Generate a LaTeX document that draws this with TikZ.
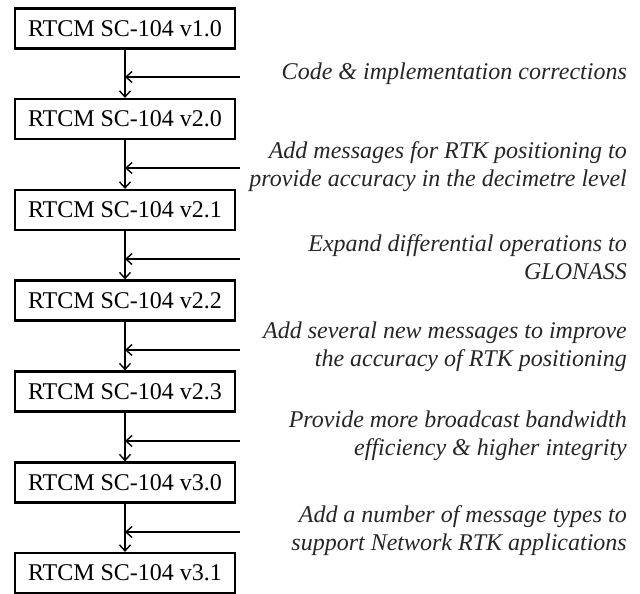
\documentclass[tikz,border=0pt]{standalone}
\usepackage{fontspec}
\setmainfont{Liberation Serif}
\usetikzlibrary{arrows.meta}
\begin{document}
\begin{tikzpicture}[x=1pt,y=-1pt,
  verbox/.style={draw, line width=2.2pt, minimum width=220pt, minimum height=40pt, inner sep=0pt, font=\fontsize{24}{28}\selectfont},
  note/.style={align=right, anchor=east, inner sep=0pt, text=black!85, font=\fontsize{24}{28}\selectfont\itshape},
  conn/.style={line width=1.4pt, -{Straight Barb[length=6pt,width=11pt,line width=1.4pt]}}]
\useasboundingbox (0,0) rectangle (640,594);
\node[verbox] (v0) at (125,28.5) {RTCM SC-104 v1.0};
\node[verbox] (v1) at (125,119) {RTCM SC-104 v2.0};
\node[verbox] (v2) at (125,210) {RTCM SC-104 v2.1};
\node[verbox] (v3) at (125,300.5) {RTCM SC-104 v2.2};
\node[verbox] (v4) at (125,391.5) {RTCM SC-104 v2.3};
\node[verbox] (v5) at (125,482.5) {RTCM SC-104 v3.0};
\node[verbox] (v6) at (125,573) {RTCM SC-104 v3.1};
\foreach \a/\b in {v0/v1,v1/v2,v2/v3,v3/v4,v4/v5,v5/v6}
  \draw[conn] (\a.south) -- (\b.north);
\coordinate (c0) at (240,77);
\coordinate (c1) at (240,168);
\coordinate (c2) at (240,259);
\coordinate (c3) at (240,350);
\coordinate (c4) at (240,441);
\coordinate (c5) at (240,532);
\foreach \c/\v in {c0/v0,c1/v1,c2/v2,c3/v3,c4/v4,c5/v5}
  \draw[conn] (\c) -- (\c -| \v.south);
\node[note] (t0) at (627,74) {Code \& implementation corrections};
\node[note] (t1) at (627,167) {Add messages for RTK positioning to\\provide accuracy in the decimetre level};
\node[note] (t2) at (627,257) {Expand differential operations to\\GLONASS};
\node[note] (t3) at (627,347) {Add several new messages to improve\\the accuracy of RTK positioning};
\node[note] (t4) at (627,436) {Provide more broadcast bandwidth\\efficiency \& higher integrity};
\node[note] (t5) at (627,531) {Add a number of message types to\\support Network RTK applications};
\end{tikzpicture}
\end{document}
